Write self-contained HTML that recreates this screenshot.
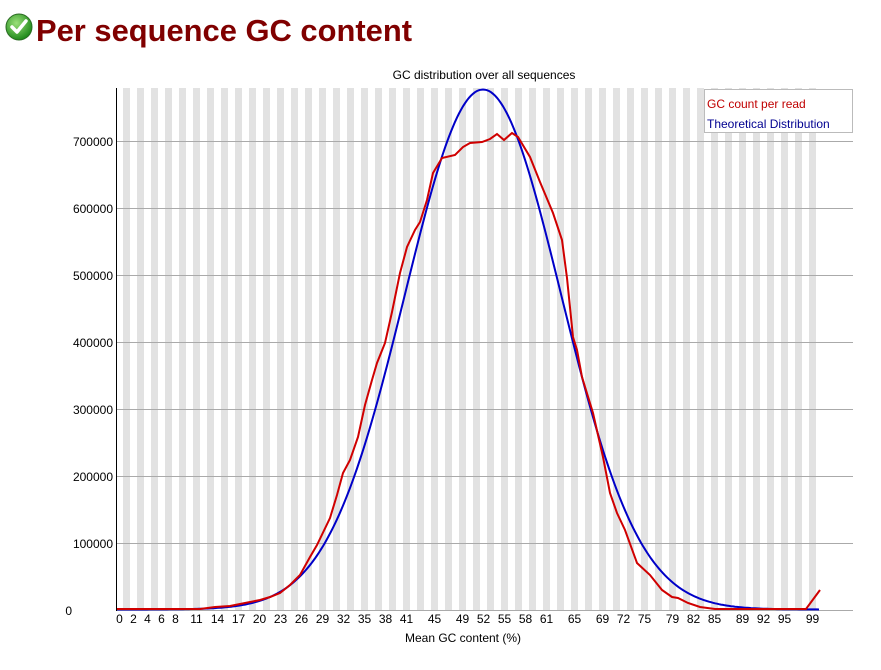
<!DOCTYPE html>
<html><head><meta charset="utf-8"><style>
html,body{margin:0;padding:0;background:#fff;width:881px;height:670px;overflow:hidden}
</style></head><body>
<svg width="881" height="670" xmlns="http://www.w3.org/2000/svg" font-family="'Liberation Sans','DejaVu Sans',sans-serif">
<defs><radialGradient id="g" cx="40%" cy="35%" r="65%"><stop offset="0" stop-color="#9be07a"/><stop offset="1" stop-color="#1f8a1a"/></radialGradient></defs>
<circle cx="19" cy="27" r="13" fill="url(#g)" stroke="#2a6a22" stroke-width="1"/>
<path d="M12 27 L17 32 L26 21" stroke="#fff" stroke-width="3.5" fill="none" stroke-linecap="round" stroke-linejoin="round"/>
<text x="36" y="41" font-size="31" font-weight="bold" fill="#800000" textLength="376" lengthAdjust="spacingAndGlyphs">Per sequence GC content</text>
<text x="484" y="79" font-size="12" text-anchor="middle" fill="#000">GC distribution over all sequences</text>
<g id="stripes"></g>
<g stroke="#aaa" stroke-width="1">
<line x1="117" y1="141.5" x2="853" y2="141.5"/><line x1="117" y1="208.5" x2="853" y2="208.5"/>
<line x1="117" y1="275.5" x2="853" y2="275.5"/><line x1="117" y1="342.5" x2="853" y2="342.5"/>
<line x1="117" y1="409.5" x2="853" y2="409.5"/><line x1="117" y1="476.5" x2="853" y2="476.5"/>
<line x1="117" y1="543.5" x2="853" y2="543.5"/><line x1="117" y1="610.5" x2="853" y2="610.5"/>
</g>
<line x1="116.5" y1="88" x2="116.5" y2="611" stroke="#000"/>
<g font-size="12" text-anchor="end" fill="#000">
<text x="113" y="146">700000</text><text x="113" y="213">600000</text><text x="113" y="280">500000</text>
<text x="113" y="347">400000</text><text x="113" y="414">300000</text><text x="113" y="481">200000</text>
<text x="113" y="548">100000</text><text x="72" y="615">0</text>
</g>
<g id="xl" font-size="12" text-anchor="middle" fill="#000"></g>
<text x="463" y="642" font-size="12" text-anchor="middle">Mean GC content (%)</text>
<polyline id="blue" fill="none" stroke="#0000c8" stroke-width="2"/>
<polyline fill="none" stroke="#d00000" stroke-width="2" points="117,609 200,609 215,607 230,606 245,603 260,600 270,597 280,593 290,585 300,575 310,557 317,545 330,518 337,495 343,473 350,460 358,437 365,405 372,380 377,363 385,343 392,312 400,273 407,247 415,230 420,222 427,200 433,173 442,158 455,155 463,147 470,143 482,142 490,139 497,134 504,140 512,133 518,137 530,157 540,182 553,213 562,240 567,278 573,337 577,350 582,377 593,413 603,457 610,493 617,513 625,530 637,563 650,575 662,590 672,597 678,598 688,603 700,607 715,609 806,609 820,590"/>
<rect x="704.5" y="89.5" width="148" height="43" fill="#fff" stroke="#bbb"/>
<text x="707" y="108" font-size="12" fill="#c00000">GC count per read</text>
<text x="707" y="128" font-size="12" fill="#000090">Theoretical Distribution</text>
</svg>
<script>
var ns="http://www.w3.org/2000/svg",s=document.getElementById("stripes");
for(var i=1;i<=99;i+=2){var r=document.createElementNS(ns,"rect");r.setAttribute("x",116+7*i);r.setAttribute("y",88);r.setAttribute("width",7);r.setAttribute("height",522);r.setAttribute("fill","#e2e2e2");s.appendChild(r);}
var L=[0,2,4,6,8,11,14,17,20,23,26,29,32,35,38,41,45,49,52,55,58,61,65,69,72,75,79,82,85,89,92,95,99],g=document.getElementById("xl");
L.forEach(function(v){var t=document.createElementNS(ns,"text");t.setAttribute("x",119.5+7*v);t.setAttribute("y",623);t.textContent=v;g.appendChild(t);});
var p=[];for(var x=117;x<=820;x+=2){var d=(x-483)/78;p.push(x+","+(609.5-520*Math.exp(-d*d/2)).toFixed(1));}
document.getElementById("blue").setAttribute("points",p.join(" "));
</script>
</body></html>
